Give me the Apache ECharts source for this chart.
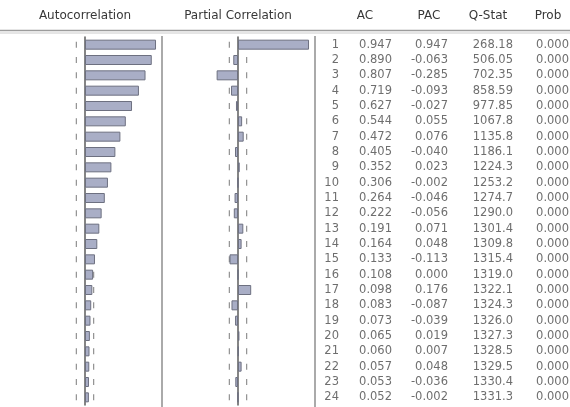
<!DOCTYPE html>
<html>
<head>
<meta charset="utf-8">
<script src="https://cdn.jsdelivr.net/npm/echarts@6/dist/echarts.min.js"></script>
<style>
  html, body { margin: 0; padding: 0; background: #ffffff; }
  #chart { width: 570px; height: 407px; }
</style>
</head>
<body>
<div id="chart"></div>
<script>
// Correlogram: lags, autocorrelations, partial autocorrelations, Ljung-Box Q and p-values
const lags = [1, 2, 3, 4, 5, 6, 7, 8, 9, 10, 11, 12, 13, 14, 15, 16, 17, 18, 19, 20, 21, 22, 23, 24];
const acValues = [0.947, 0.890, 0.807, 0.719, 0.627, 0.544, 0.472, 0.405, 0.352, 0.306, 0.264, 0.222,
                  0.191, 0.164, 0.133, 0.108, 0.098, 0.083, 0.073, 0.065, 0.060, 0.057, 0.053, 0.052];
const pacValues = [0.947, -0.063, -0.285, -0.093, -0.027, 0.055, 0.076, -0.040, 0.023, -0.002, -0.046, -0.056,
                   0.071, 0.048, -0.113, 0.000, 0.176, -0.087, -0.039, 0.019, 0.007, 0.048, -0.036, -0.002];
const qStatValues = [268.18, 506.05, 702.35, 858.59, 977.85, 1067.8, 1135.8, 1186.1, 1224.3, 1253.2, 1274.7, 1290.0,
                     1301.4, 1309.8, 1315.4, 1319.0, 1322.1, 1324.3, 1326.0, 1327.3, 1328.5, 1329.5, 1330.4, 1331.3];
const probValues = [0, 0, 0, 0, 0, 0, 0, 0, 0, 0, 0, 0, 0, 0, 0, 0, 0, 0, 0, 0, 0, 0, 0, 0];
// approximate 2-standard-error band drawn as dotted markers
const confBand = 0.116;
const panelTitles = ['Autocorrelation', 'Partial Correlation'];
const columnHeaders = ['AC', 'PAC', 'Q-Stat', 'Prob'];

// layout
const FONT = '"DejaVu Sans", sans-serif';
const TEXT_COLOR = '#4a4a4a';
const BAR_FILL = '#a9aec6';
const BAR_EDGE = '#6d7080';
const gridTop = 37, gridBottom = 2;
const tableWidth = 254;
// right edges of the table columns (lag, AC, PAC, Q-Stat, Prob) inside the table grid
const columnRight = [23, 76, 132, 197, 253];
const headerCenters = [365, 429, 488, 548];
const panelCenters = [85, 238];

const fmtQ = v => (v >= 1000 ? v.toFixed(1) : v.toFixed(2));
const tableColumns = [
  lags.map(String),
  acValues.map(v => v.toFixed(3)),
  pacValues.map(v => v.toFixed(3)),
  qStatValues.map(fmtQ),
  probValues.map(v => v.toFixed(3))
];

const chart = echarts.init(document.getElementById('chart'), null, { renderer: 'canvas' });

function panelAxes(idx) {
  return {
    x: { gridIndex: idx, type: 'value', min: -1, max: 1, show: false },
    y: {
      gridIndex: idx, type: 'category', inverse: true, data: lags,
      axisLine: { show: true, onZero: true, lineStyle: { color: '#5c5c5c', width: 1.5 } },
      axisTick: { show: false }, axisLabel: { show: false }, splitLine: { show: false }
    }
  };
}
const acfAxes = panelAxes(0);
const pacfAxes = panelAxes(1);

function bandSeries(axisIndex) {
  const pts = [];
  lags.forEach((l, i) => { pts.push([-confBand, i]); pts.push([confBand, i]); });
  return {
    type: 'scatter', xAxisIndex: axisIndex, yAxisIndex: axisIndex,
    symbol: 'rect', symbolSize: [1, 6], data: pts, silent: true, z: 1,
    itemStyle: { color: '#5a5a5a' }
  };
}
function barSeries(axisIndex, values) {
  return {
    type: 'bar', xAxisIndex: axisIndex, yAxisIndex: axisIndex, data: values,
    barWidth: 10, silent: true, z: 2,
    itemStyle: { color: BAR_FILL, borderColor: BAR_EDGE, borderWidth: 1 }
  };
}
const tableSeries = tableColumns.map((col, c) => ({
  type: 'scatter', xAxisIndex: 2, yAxisIndex: 2, symbolSize: 0, silent: true,
  data: col.map((txt, i) => ({ value: [columnRight[c], i], text: txt })),
  label: {
    show: true, position: 'left', distance: 0,
    formatter: p => p.data.text,
    fontFamily: FONT, fontSize: 11.5, color: TEXT_COLOR
  }
}));

const headerText = (txt, x) => ({
  type: 'text', x: x, y: 15.5,
  style: { text: txt, align: 'center', verticalAlign: 'middle', font: '12px ' + FONT, fill: '#383838' }
});
const vLine = x => ({
  type: 'line', shape: { x1: x, y1: 36, x2: x, y2: 407 },
  style: { stroke: '#8e8e8e', lineWidth: 1.5 }, silent: true
});

chart.setOption({
  animation: false,
  backgroundColor: '#ffffff',
  grid: [
    { left: 10, width: 150, top: gridTop, bottom: gridBottom },
    { left: 163, width: 150, top: gridTop, bottom: gridBottom },
    { left: 316, width: tableWidth, top: gridTop, bottom: gridBottom }
  ],
  xAxis: [acfAxes.x, pacfAxes.x, { gridIndex: 2, type: 'value', min: 0, max: tableWidth, show: false }],
  yAxis: [acfAxes.y, pacfAxes.y, { gridIndex: 2, type: 'category', inverse: true, data: lags, show: false }],
  series: [
    bandSeries(0), barSeries(0, acValues),
    bandSeries(1), barSeries(1, pacValues)
  ].concat(tableSeries),
  graphic: [
    { type: 'line', shape: { x1: 0, y1: 30.5, x2: 570, y2: 30.5 }, style: { stroke: '#9c9c9c', lineWidth: 1.5 }, silent: true },
    { type: 'line', shape: { x1: 0, y1: 33, x2: 570, y2: 33 }, style: { stroke: '#cccccc', lineWidth: 1 }, silent: true },
    vLine(162), vLine(315),
    headerText(panelTitles[0], panelCenters[0]),
    headerText(panelTitles[1], panelCenters[1])
  ].concat(columnHeaders.map((h, i) => headerText(h, headerCenters[i])))
});
</script>
</body>
</html>
